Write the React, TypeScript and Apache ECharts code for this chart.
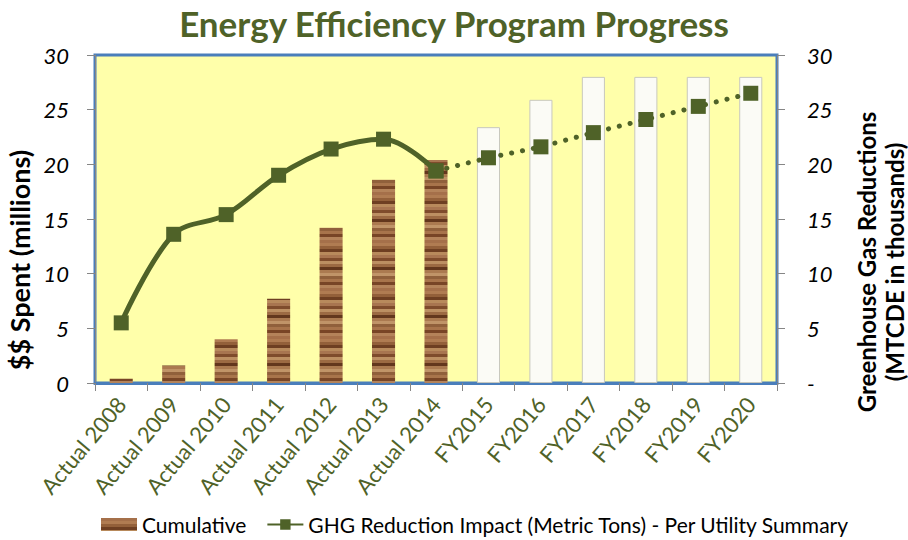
import React, { useEffect, useRef } from "react";
import * as echarts from "echarts";

const categories = [
  "Actual 2008", "Actual 2009", "Actual 2010", "Actual 2011", "Actual 2012",
  "Actual 2013", "Actual 2014", "FY2015", "FY2016", "FY2017", "FY2018", "FY2019", "FY2020",
];
const cumulativeSpent = [0.4, 1.6, 4.0, 7.7, 14.2, 18.6, 20.4, 23.4, 25.9, 28.0, 28.0, 28.0, 28.0];
const ghgActual = [5.5, 13.6, 15.4, 19.0, 21.4, 22.3, 19.4, null, null, null, null, null, null];
const ghgProjected = [null, null, null, null, null, null, 19.4, 20.6, 21.6, 22.9, 24.1, 25.3, 26.5];
const firstProjectedIndex = 7;
const axisMin = 0;
const axisMax = 30;
const axisInterval = 5;

const FONT = "Lato";
const GREEN = "#4F6228";

function woodPattern(): any {
  const c = document.createElement("canvas");
  c.width = 24;
  c.height = 48;
  const ctx = c.getContext("2d")!;
  const bands = [
    "#A5704A", "#B07C52", "#93603A", "#6E3F22", "#B88A5C", "#A87550", "#7F4C2C",
    "#BC8F62", "#9C6A43", "#63371D", "#AB7A50", "#C09468", "#90603B", "#A8744B",
    "#784526", "#B4835A",
  ];
  const h = c.height / bands.length;
  bands.forEach((col, i) => {
    ctx.fillStyle = col;
    ctx.fillRect(0, i * h, c.width, h + 0.5);
  });
  return { image: c.toDataURL(), repeat: "repeat" };
}

export default function App() {
  const ref = useRef<HTMLDivElement>(null);
  useEffect(() => {
    document.body.style.margin = "0";
    if (!ref.current) return;
    const chart = echarts.init(ref.current, null, { renderer: "svg" });
    const wood = woodPattern();
    const barData = cumulativeSpent.map((v, i) =>
      i >= firstProjectedIndex
        ? { value: v, itemStyle: { color: "#FBFBF6", borderColor: "#C8C8BE", borderWidth: 1 } }
        : { value: v }
    );
    chart.setOption({
      animation: false,
      textStyle: { fontFamily: FONT },
      title: {
        text: "Energy Efficiency Program Progress",
        left: "center",
        top: 0,
        textStyle: { fontFamily: FONT, fontSize: 35, fontWeight: "bold", color: GREEN },
      },
      legend: {
        left: 96,
        bottom: 0,
        itemGap: 20,
        itemHeight: 13,
        itemWidth: 36,
        data: [
          { name: "Cumulative", icon: "rect" },
          { name: "GHG Reduction Impact (Metric Tons) - Per Utility Summary" },
        ],
        textStyle: { fontFamily: FONT, fontSize: 21, color: "#000" },
      },
      grid: {
        left: 95,
        right: 131,
        top: 55,
        bottom: 157,
        show: true,
        backgroundColor: "#FFFFAA",
        borderColor: "#4A7EBB",
        borderWidth: 3,
        outerBoundsMode: "none",
      },
      xAxis: {
        type: "category",
        data: categories,
        axisLine: { lineStyle: { color: "#4A7EBB", width: 3 } },
        axisTick: { show: true, length: 8, lineStyle: { color: "#868686" } },
        axisLabel: {
          rotate: 50,
          interval: 0,
          margin: 17,
          fontSize: 22,
          color: GREEN,
          fontFamily: FONT,
        },
      },
      yAxis: [
        {
          type: "value",
          min: axisMin,
          max: axisMax,
          interval: axisInterval,
          name: "$$ Spent (millions)",
          nameLocation: "middle",
          nameRotate: 90,
          nameGap: 60,
          nameTextStyle: {
            fontFamily: FONT,
            fontSize: 27,
            fontWeight: "bold",
            color: "#000",
            padding: [0, 82, 0, 0],
          },
          axisLine: { show: true, lineStyle: { color: "#868686" } },
          axisTick: { show: true, length: 8, lineStyle: { color: "#868686" } },
          splitLine: { show: false },
          axisLabel: { fontSize: 22, fontStyle: "italic", color: "#000", margin: 26, fontFamily: FONT },
        },
        {
          type: "value",
          min: axisMin,
          max: axisMax,
          interval: axisInterval,
          position: "right",
          name: "Greenhouse Gas Reductions\n(MTCDE in thousands)",
          nameLocation: "middle",
          nameRotate: 90,
          nameGap: 75,
          nameTextStyle: {
            fontFamily: FONT,
            fontSize: 24,
            fontWeight: "bold",
            color: "#000",
            lineHeight: 28,
            align: "center",
            padding: [0, 86, 0, 0],
          },
          axisLine: { show: true, lineStyle: { color: "#868686" } },
          axisTick: { show: true, length: 8, lineStyle: { color: "#868686" } },
          splitLine: { show: false },
          axisLabel: {
            fontSize: 22,
            fontStyle: "italic",
            color: "#000",
            margin: 30,
            fontFamily: FONT,
            formatter: (v: number) => (v === 0 ? "-" : String(v)),
          },
        },
      ],
      series: [
        {
          name: "Cumulative",
          type: "bar",
          yAxisIndex: 0,
          barWidth: "44%",
          itemStyle: { color: wood },
          data: barData,
        },
        {
          name: "GHG Reduction Impact (Metric Tons) - Per Utility Summary",
          type: "line",
          yAxisIndex: 1,
          smooth: 0.35,
          symbol: "rect",
          symbolSize: 15,
          lineStyle: { color: GREEN, width: 5 },
          itemStyle: { color: GREEN },
          data: ghgActual,
          z: 5,
        },
        {
          name: "GHG Projected",
          type: "line",
          yAxisIndex: 1,
          symbol: "rect",
          symbolSize: 15,
          lineStyle: { color: GREEN, width: 5, type: [0.1, 11], cap: "round" },
          itemStyle: { color: GREEN },
          data: ghgProjected,
          z: 4,
        },
      ],
    });
    return () => chart.dispose();
  }, []);
  return <div ref={ref} style={{ width: 908, height: 540 }} />;
}
